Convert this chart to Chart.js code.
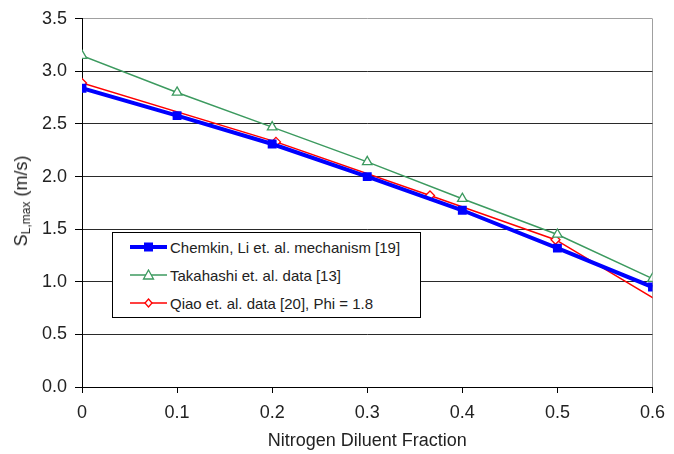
<!DOCTYPE html>
<html>
<head>
<meta charset="utf-8">
<script src="https://cdn.jsdelivr.net/npm/chart.js@4"></script>
<style>
  html, body { margin: 0; padding: 0; background: #fff; }
  #wrap { position: relative; width: 674px; height: 454px; font-family: "Liberation Sans", Arial, sans-serif; }
  #c { position: absolute; left: 0; top: 0; }
  #ytitle { position: absolute; left: 22px; top: 201px; transform: translate(-50%, -50%) rotate(-90deg); white-space: nowrap; font-size: 18px; color: #222; }
  #ytitle sub { font-size: 12px; vertical-align: -3px; }
  #legend { position: absolute; left: 112px; top: 232px; width: 309px; height: 86px; border: 1px solid #000; background: #fff; font-size: 15px; color: #222; box-sizing: border-box; }
  .row { position: absolute; left: 16px; height: 20px; display: flex; align-items: center; }
  .row svg { margin-right: 2px; }
</style>
</head>
<body>
<div id="wrap">
  <canvas id="c" width="674" height="454"></canvas>
  <div id="ytitle">S<sub>L,max</sub> (m/s)</div>
  <div id="legend">
    <div class="row" style="top:4px"><svg width="39" height="12"><line x1="1" y1="6" x2="38" y2="6" stroke="#0000ff" stroke-width="4"/><rect x="15" y="1.5" width="9" height="9" fill="#0000ff"/></svg><span>Chemkin, Li et. al. mechanism [19]</span></div>
    <div class="row" style="top:32px"><svg width="39" height="12"><line x1="1" y1="6" x2="38" y2="6" stroke="#3c9a5f" stroke-width="1.5"/><polygon points="19.5,1 24.5,10 14.5,10" fill="#fff" stroke="#3c9a5f" stroke-width="1.3"/></svg><span>Takahashi et. al. data [13]</span></div>
    <div class="row" style="top:60px"><svg width="39" height="12"><line x1="1" y1="6" x2="38" y2="6" stroke="#ff0000" stroke-width="1.5"/><polygon points="19.5,2 23,6 19.5,10 16,6" fill="#fff" stroke="#ff0000" stroke-width="1.3"/></svg><span>Qiao et. al. data [20], Phi = 1.8</span></div>
  </div>
</div>
<script>
// ---- data ----
const xTicks = [0, 0.1, 0.2, 0.3, 0.4, 0.5, 0.6];
const yTicks = [0, 0.5, 1.0, 1.5, 2.0, 2.5, 3.0, 3.5];

const chemkinX = [0, 0.1, 0.2, 0.3, 0.4, 0.5, 0.6];
const chemkinY = [2.84, 2.58, 2.31, 2.00, 1.68, 1.32, 0.95];

const takahashiX = [0, 0.1, 0.2, 0.3, 0.4, 0.5, 0.6];
const takahashiY = [3.15, 2.80, 2.47, 2.14, 1.79, 1.45, 1.03];

const qiaoX = [0, 0.204, 0.366, 0.498];
const qiaoY = [2.89, 2.33, 1.82, 1.40];
// line drawn through the Qiao data and on to the right edge
const qiaoLineX = [0, 0.204, 0.366, 0.498, 0.602];
const qiaoLineY = [2.89, 2.33, 1.82, 1.40, 0.84];

const xTitle = 'Nitrogen Diluent Fraction';

function pts(xs, ys) { return xs.map((x, i) => ({ x: x, y: ys[i] })); }

const FONT = "'Liberation Sans', Arial, sans-serif";

new Chart(document.getElementById('c'), {
  type: 'line',
  data: {
    datasets: [
      {
        label: 'Qiao line',
        data: pts(qiaoLineX, qiaoLineY),
        borderColor: '#ff0000', borderWidth: 1.5, pointRadius: 0, tension: 0, order: 3
      },
      {
        label: 'Qiao et. al. data [20], Phi = 1.8',
        data: pts(qiaoX, qiaoY),
        showLine: false,
        pointStyle: 'rectRot', pointRadius: 4.5, pointBorderWidth: 1.3,
        pointBorderColor: '#ff0000', pointBackgroundColor: '#ffffff', order: 2
      },
      {
        label: 'Takahashi et. al. data [13]',
        data: pts(takahashiX, takahashiY),
        borderColor: '#3c9a5f', borderWidth: 1.5, tension: 0,
        pointStyle: 'triangle', pointRadius: 5.5, pointBorderWidth: 1.3,
        pointBorderColor: '#3c9a5f', pointBackgroundColor: '#ffffff', order: 1
      },
      {
        label: 'Chemkin, Li et. al. mechanism [19]',
        data: pts(chemkinX, chemkinY),
        borderColor: '#0000ff', borderWidth: 4, tension: 0,
        pointStyle: 'rect', pointRadius: 6.3, pointBorderWidth: 0,
        pointBackgroundColor: '#0000ff', pointBorderColor: '#0000ff', order: 0
      }
    ]
  },
  options: {
    responsive: false,
    animation: false,
    layout: { padding: { top: 14, right: 20, left: 0, bottom: 0 } },
    plugins: { legend: { display: false }, tooltip: { enabled: false } },
    scales: {
      x: {
        type: 'linear', min: 0, max: 0.6,
        afterBuildTicks: (s) => { s.ticks = xTicks.map(v => ({ value: v })); },
        afterFit: (s) => { s.height = 67; },
        ticks: { callback: (v) => String(v), font: { family: FONT, size: 18 }, color: '#222', padding: 9, maxRotation: 0 },
        grid: {
          drawOnChartArea: true, tickLength: 6, tickColor: '#000', tickWidth: 1,
          color: (ctx) => (ctx.tick && Math.abs(ctx.tick.value - 0.6) < 1e-9) ? '#a0a0a0' : 'rgba(0,0,0,0)',
          lineWidth: 1
        },
        border: { color: '#000', width: 1 },
        title: { display: true, text: xTitle, font: { family: FONT, size: 18 }, color: '#222', padding: { top: 4, bottom: 2 } }
      },
      y: {
        type: 'linear', min: 0, max: 3.5,
        afterBuildTicks: (s) => { s.ticks = yTicks.map(v => ({ value: v })); },
        afterFit: (s) => { s.width = 82; },
        ticks: { callback: (v) => Number(v).toFixed(1), font: { family: FONT, size: 18 }, color: '#222', padding: 8 },
        grid: {
          tickLength: 7, tickColor: '#000',
          color: (ctx) => (ctx.tick && Math.abs(ctx.tick.value - 3.5) < 1e-9) ? '#a0a0a0' : '#2a2a2a',
          lineWidth: 1
        },
        border: { color: '#000', width: 1 }
      }
    }
  }
});
</script>
</body>
</html>
